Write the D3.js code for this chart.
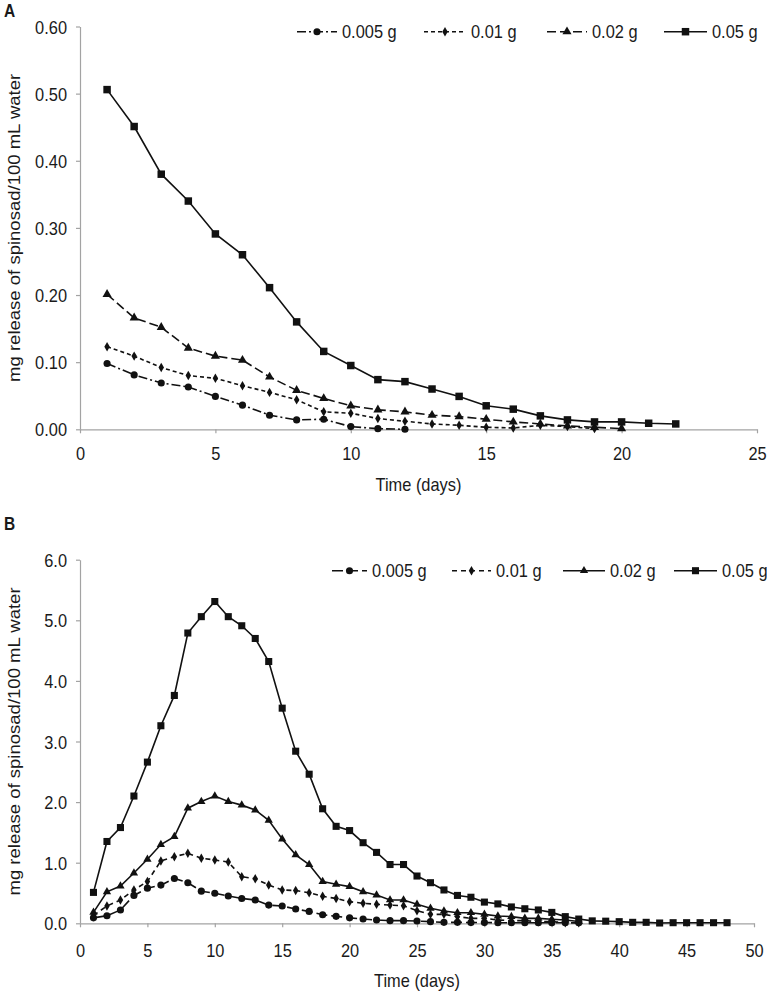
<!DOCTYPE html>
<html><head><meta charset="utf-8">
<script src="https://cdn.jsdelivr.net/npm/d3@7"></script>
<style>
body{margin:0;background:#fff}
svg text{font-family:"Liberation Sans",Arial,sans-serif;fill:#1a1a1a}
</style></head><body>
<svg id="c" width="767" height="995"></svg>
<script>
// ---------------- DATA ----------------
const seriesNames = ["0.005 g", "0.01 g", "0.02 g", "0.05 g"];
const xTicksA = [0, 5, 10, 15, 20, 25];
const yTicksA = [0, 0.1, 0.2, 0.3, 0.4, 0.5, 0.6];
const xTicksB = [0, 5, 10, 15, 20, 25, 30, 35, 40, 45, 50];
const yTicksB = [0, 1, 2, 3, 4, 5, 6];
const xTitle = "Time (days)";
const yTitle = "mg release of spinosad/100 mL water";

// Panel A values, day 1 onward
const A_005 = [0.098, 0.081, 0.069, 0.063, 0.049, 0.036, 0.021, 0.014, 0.015, 0.004, 0.001, 0.000];
const A_01  = [0.123, 0.109, 0.092, 0.080, 0.076, 0.065, 0.055, 0.044, 0.026, 0.024, 0.016, 0.012, 0.008, 0.006, 0.003, 0.002, 0.006, 0.004, 0.001];
const A_02  = [0.201, 0.166, 0.152, 0.121, 0.109, 0.103, 0.078, 0.058, 0.046, 0.035, 0.029, 0.026, 0.021, 0.019, 0.015, 0.011, 0.008, 0.005, 0.003, 0.001];
const A_05  = [0.506, 0.451, 0.380, 0.340, 0.291, 0.260, 0.211, 0.160, 0.116, 0.095, 0.074, 0.071, 0.060, 0.049, 0.035, 0.030, 0.020, 0.014, 0.011, 0.011, 0.009, 0.008];

// Panel B values, day 1 onward
const B_005 = [0.09, 0.125, 0.22, 0.46, 0.58, 0.63, 0.74, 0.67, 0.53, 0.495, 0.45, 0.41, 0.385, 0.30, 0.285, 0.236, 0.196, 0.142, 0.115, 0.09, 0.071, 0.054, 0.044, 0.044, 0.038, 0.027, 0.016, 0.016, 0.012, 0.012, 0.01, 0.01, 0.01, 0.01, 0.01, 0.01, 0.01];
const B_01  = [0.13, 0.285, 0.385, 0.55, 0.69, 1.03, 1.10, 1.155, 1.075, 1.045, 1.01, 0.77, 0.735, 0.632, 0.55, 0.54, 0.505, 0.445, 0.41, 0.357, 0.33, 0.313, 0.30, 0.29, 0.208, 0.148, 0.148, 0.11, 0.082, 0.082, 0.054, 0.044, 0.044, 0.027, 0.027, 0.01, 0.01];
const B_02  = [0.18, 0.52, 0.615, 0.83, 1.056, 1.30, 1.43, 1.90, 2.01, 2.10, 2.01, 1.95, 1.87, 1.70, 1.39, 1.13, 0.97, 0.69, 0.644, 0.605, 0.52, 0.467, 0.385, 0.385, 0.313, 0.247, 0.203, 0.175, 0.175, 0.148, 0.12, 0.11, 0.082, 0.082, 0.066, 0.054, 0.03];
const B_05  = [0.51, 1.35, 1.58, 2.10, 2.66, 3.26, 3.76, 4.79, 5.06, 5.31, 5.06, 4.91, 4.70, 4.32, 3.55, 2.84, 2.46, 1.89, 1.60, 1.53, 1.33, 1.17, 0.97, 0.97, 0.78, 0.67, 0.55, 0.46, 0.43, 0.35, 0.32, 0.27, 0.24, 0.22, 0.18, 0.11, 0.07, 0.04, 0.035, 0.027, 0.016, 0.016, 0.005, 0.01, 0.01, 0.01, 0.01, 0.01];

// ---------------- DRAW ----------------
const svg = d3.select("#c");
const GRAY = "#a3a3a3";
const INK = "#111";
const FS = 16.4, SY = 1.13;

function stretchAt(sel, baseY) {
  sel.attr("y", baseY).attr("dy", null)
     .attr("transform", `translate(0,${baseY}) scale(1,${SY}) translate(0,${-baseY})`);
}
function addText(x, y, txt, anchor, extra) {
  const t = svg.append("text").attr("x", x).attr("text-anchor", anchor || "start")
    .attr("font-size", FS).text(txt);
  stretchAt(t, y);
  if (extra) extra(t);
  return t;
}
const symbolTypes = {circle: d3.symbolCircle, square: d3.symbolSquare, triangle: d3.symbolTriangle, diamond: d3.symbolDiamond};

function panel(o) {
  const x = d3.scaleLinear().domain([o.xTicks[0], o.xTicks[o.xTicks.length - 1]]).range(o.xRange);
  const y = d3.scaleLinear().domain([o.yTicks[0], o.yTicks[o.yTicks.length - 1]]).range(o.yRange);
  const g = svg.append("g");

  const ax = g.append("g").attr("transform", `translate(0,${o.yRange[0]})`)
    .call(d3.axisBottom(x).tickValues(o.xTicks).tickSize(4).tickSizeOuter(0).tickFormat(d3.format("d")));
  const ay = g.append("g").attr("transform", `translate(${o.xRange[0]},0)`)
    .call(d3.axisLeft(y).tickValues(o.yTicks).tickSize(4).tickSizeOuter(0).tickPadding(9).tickFormat(d3.format(o.yFmt)));
  [ax, ay].forEach(a => {
    a.attr("font-size", FS).attr("font-family", null);
    a.select(".domain").attr("stroke", GRAY).attr("stroke-width", 1.2);
    a.selectAll(".tick line").attr("stroke", GRAY).attr("stroke-width", 1.2);
    a.selectAll(".tick text").attr("fill", "#1a1a1a");
  });
  ax.selectAll(".tick text").call(stretchAt, o.xLabOff);
  ay.selectAll(".tick text").call(stretchAt, 6.6);

  o.series.forEach((s, i) => {
    const st = o.styles[i];
    const pts = s.map((v, j) => [j + 1, v]);
    g.append("path").datum(pts)
      .attr("d", d3.line().x(d => x(d[0])).y(d => y(d[1])))
      .attr("fill", "none").attr("stroke", INK).attr("stroke-width", 1.6)
      .attr("stroke-dasharray", st.dash);
    const sym = d3.symbol(symbolTypes[st.sym], st.size)();
    g.append("g").selectAll("path").data(pts).join("path")
      .attr("transform", d => `translate(${x(d[0])},${y(d[1])})`)
      .attr("d", sym).attr("fill", INK);
  });

  // legend
  o.legend.forEach((L, i) => {
    const st = o.styles[i];
    svg.append("line").attr("x1", L[0]).attr("x2", L[1]).attr("y1", o.legY).attr("y2", o.legY)
      .attr("stroke", INK).attr("stroke-width", 1.6).attr("stroke-dasharray", st.dash);
    svg.append("path").attr("transform", `translate(${(L[0] + L[1]) / 2},${o.legY})`)
      .attr("d", d3.symbol(symbolTypes[st.sym], st.size)()).attr("fill", INK);
    addText(L[1] + 5, o.legY + 6.6, seriesNames[i]);
  });

  // titles
  addText((o.xRange[0] + o.xRange[1]) / 2, o.xTitleY, xTitle, "middle");
  svg.append("text")
    .attr("transform", `translate(${o.yTitleX},${(o.yRange[0] + o.yRange[1]) / 2}) rotate(-90) scale(${SY},1)`)
    .attr("text-anchor", "middle").attr("font-size", FS).text(yTitle);
  addText(4, o.panelLabelY, o.panelLabel, "start", t => t.attr("font-weight", "bold").attr("font-size", 15.5));
}

panel({
  panelLabel: "A", panelLabelY: 17.5,
  xTicks: xTicksA, yTicks: yTicksA, yFmt: ".2f",
  xRange: [80, 757], yRange: [429.3, 26.5],
  xLabOff: 30.3, xTitleY: 491, yTitleX: 20,
  series: [A_005, A_01, A_02, A_05],
  styles: [
    {sym: "circle", size: 40, dash: "9,3,2,3"},
    {sym: "diamond", size: 26, dash: "4,3"},
    {sym: "triangle", size: 36, dash: "9,4"},
    {sym: "square", size: 56, dash: null}
  ],
  legY: 31.7,
  legend: [[297, 337], [424, 466], [547, 587], [664, 707]]
});

panel({
  panelLabel: "B", panelLabelY: 530,
  xTicks: xTicksB, yTicks: yTicksB, yFmt: ".1f",
  xRange: [80, 754], yRange: [923.3, 559.7],
  xLabOff: 34, xTitleY: 987, yTitleX: 20,
  series: [B_005, B_01, B_02, B_05],
  styles: [
    {sym: "circle", size: 40, dash: "11,4"},
    {sym: "diamond", size: 26, dash: "5,4"},
    {sym: "triangle", size: 30, dash: null},
    {sym: "square", size: 50, dash: null}
  ],
  legY: 570.7,
  legend: [[332, 367], [452, 491], [563, 605], [674, 717]]
});
</script>
</body></html>
